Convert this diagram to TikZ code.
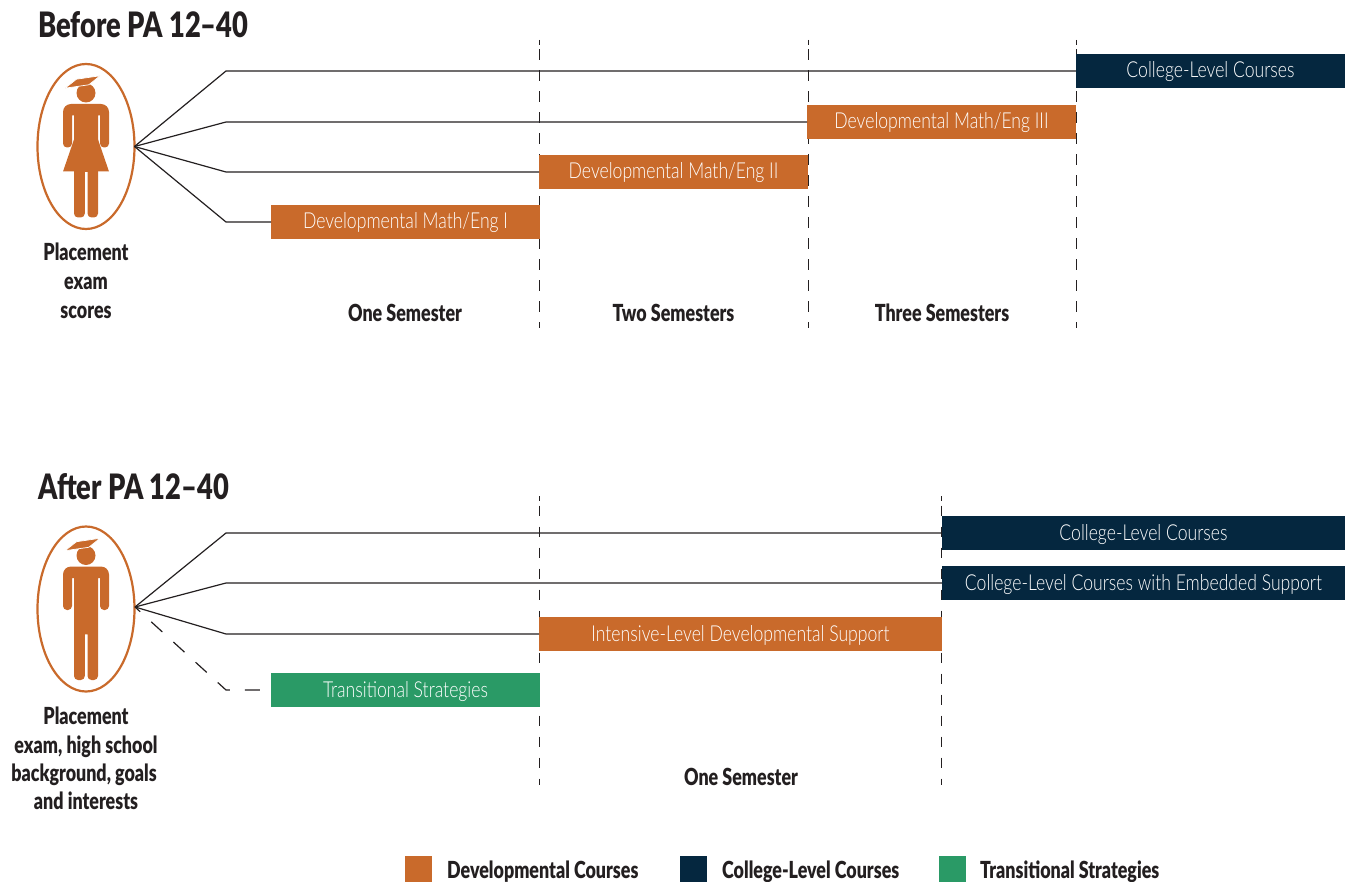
\documentclass[tikz,border=0pt]{standalone}
\usepackage{fontspec}
\usetikzlibrary{shapes.geometric}
\newfontfamily\barfont{Lato Light}[FakeStretch=0.8]
\newfontfamily\headfont{Lato Black}[FakeStretch=0.78]
\newfontfamily\labfont{Lato Black}[FakeStretch=0.76]
\definecolor{devc}{HTML}{C96A2B}
\definecolor{colc}{HTML}{05273F}
\definecolor{trac}{HTML}{2A9A66}
\definecolor{ink}{HTML}{231F20}
\tikzset{
  x=1pt,y=-1pt,
  barbox/.style={inner sep=0pt,outer sep=0pt,minimum height=34pt,text=white,font=\barfont\fontsize{22}{24}\selectfont,text height=16pt,text depth=2pt,anchor=center},
  devbar/.style={barbox,fill=devc},
  colbar/.style={barbox,fill=colc},
  trabar/.style={barbox,fill=trac},
  oval/.style={ellipse,draw=devc,line width=2.2pt,minimum width=97pt,minimum height=165pt,inner sep=0pt,outer sep=0pt},
  conn/.style={draw=ink,line width=1.2pt,line join=miter},
  conndash/.style={conn,dash pattern=on 15pt off 15pt,dash phase=8pt},
  period/.style={draw=ink,line width=1pt,dash pattern=on 5pt off 4.5pt on 10.5pt off 10.5pt on 10.5pt off 10.5pt on 10.5pt off 10.5pt on 10.5pt off 10.5pt on 10.5pt off 10.5pt on 10.5pt off 10.5pt on 10.5pt off 10.5pt on 10.5pt off 10.5pt on 10.5pt off 10.5pt on 10.5pt off 10.5pt on 10.5pt off 10.5pt on 10.5pt off 10.5pt on 10.5pt off 10.5pt on 10.5pt off 10.5pt},
  heading/.style={text=ink,font=\headfont\fontsize{35}{38}\selectfont,anchor=base west,inner sep=0pt},
  lab/.style={text=ink,font=\labfont\fontsize{23.5}{26}\selectfont,anchor=base,inner sep=0pt},
  swatch/.style={minimum width=27pt,minimum height=26pt,inner sep=0pt,outer sep=0pt},
  personbody/.pic={
    \fill[devc] (-14,-31) [rounded corners=4pt] -- (-14,1) -- (-23,1)
      [rounded corners=8pt] -- (-23,-42.5) -- (23,-42.5)
      [rounded corners=4pt] -- (23,1) -- (14,1)
      [sharp corners] -- (14,-31) -- (12,-31)
      [rounded corners=4pt] -- (12,71) -- (1.5,71)
      [sharp corners] -- (1.5,25.3) -- (-1.2,25.3)
      [rounded corners=4pt] -- (-1.2,71) -- (-12,71)
      [sharp corners] -- (-12,-31) -- cycle;
    \fill[devc] (0,-53.5) circle[radius=9.5pt];
    \filldraw[fill=devc,draw=white,line width=0.7pt] (-21,-58.3) -- (-9.5,-67.3) -- (14,-70.7) -- (2.8,-61.7) -- cycle;
  },
  skirt/.pic={
    \fill[devc] (-12,-7) -- (12,-7) -- (23,25) -- (-23,25) -- cycle;
  }
}
\begin{document}
\begin{tikzpicture}
\useasboundingbox (0,0) rectangle (1348,882);
% dashed period lines
\coordinate (b1t) at (539.5,40); \coordinate (b1b) at (539.5,328);
\coordinate (b2t) at (808,40); \coordinate (b2b) at (808,328);
\coordinate (b3t) at (1076,40); \coordinate (b3b) at (1076,328);
\coordinate (a1t) at (539.5,496); \coordinate (a1b) at (539.5,785);
\coordinate (a2t) at (941.5,496); \coordinate (a2b) at (941.5,785);
\draw[period] (b1t) -- (b1b);
\draw[period] (b2t) -- (b2b);
\draw[period] (b3t) -- (b3b);
\draw[period] (a1t) -- (a1b);
\draw[period] (a2t) -- (a2b);
% headings
\node[heading] (h1) at (38,38) {Before PA 12–40};
\node[heading] (h2) at (38,499) {After PA 12–40};
% people
\node[oval] (fem) at (86,146.5) {};
\node[oval] (male) at (86,609) {};
\pic at (86,146.5) {personbody};
\pic at (86,146.5) {skirt};
\pic at (86,609) {personbody};
% bars
\node[devbar,minimum width=269pt] (d1) at (405.5,222) {Developmental Math/Eng I};
\node[devbar,minimum width=269pt] (d2) at (673.5,172) {Developmental Math/Eng II};
\node[devbar,minimum width=269pt] (d3) at (941.5,122) {Developmental Math/Eng III};
\node[colbar,minimum width=269pt] (c1) at (1210.5,71) {College-Level Courses};
\node[colbar,minimum width=403pt] (c2) at (1143.5,533) {College-Level Courses};
\node[colbar,minimum width=403pt] (c3) at (1143.5,583) {College-Level Courses with Embedded Support};
\node[devbar,minimum width=403pt] (d4) at (740.5,634) {Intensive-Level Developmental Support};
\node[trabar,minimum width=269pt] (t1) at (405.5,690) {Transitional Strategies};
% connectors
\coordinate (hubb) at (fem.east);
\coordinate (huba) at (135,607);
\coordinate (k1) at (226,71);
\coordinate (k2) at (226,122);
\coordinate (k3) at (226,172);
\coordinate (k4) at (226,222);
\coordinate (k5) at (226,533);
\coordinate (k6) at (226,583);
\coordinate (k7) at (226,634);
\coordinate (k8) at (226,690);
\draw[conn] (hubb) -- (k1) -- (c1.west);
\draw[conn] (hubb) -- (k2) -- (d3.west);
\draw[conn] (hubb) -- (k3) -- (d2.west);
\draw[conn] (hubb) -- (k4) -- (d1.west);
\draw[conn] (huba) -- (k5) -- (c2.west);
\draw[conn] (huba) -- (k6) -- (c3.west);
\draw[conn] (huba) -- (k7) -- (d4.west);
\draw[conn,conndash] (huba) -- (k8) -- (t1.west);
% labels
\node[lab] (p1) at (86,261) {Placement};
\node[lab] (p2) at (86,290) {exam};
\node[lab] (p3) at (86,319) {scores};
\node[lab] (q1) at (86,724) {Placement};
\node[lab] (q2) at (86,753) {exam, high school};
\node[lab] (q3) at (84,781) {background, goals};
\node[lab] (q4) at (86,809) {and interests};
\node[lab] (s1) at (405,322) {One Semester};
\node[lab] (s2) at (673.5,322) {Two Semesters};
\node[lab] (s3) at (942,322) {Three Semesters};
\node[lab] (s4) at (741,785) {One Semester};
% legend
\node[swatch,fill=devc] (l1) at (418.5,869) {};
\node[swatch,fill=colc] (l2) at (693.5,869) {};
\node[swatch,fill=trac] (l3) at (952.5,869) {};
\node[lab,anchor=base west] (m1) at (447,878) {Developmental Courses};
\node[lab,anchor=base west] (m2) at (722,878) {College-Level Courses};
\node[lab,anchor=base west] (m3) at (980,878) {Transitional Strategies};
\end{tikzpicture}
\end{document}
